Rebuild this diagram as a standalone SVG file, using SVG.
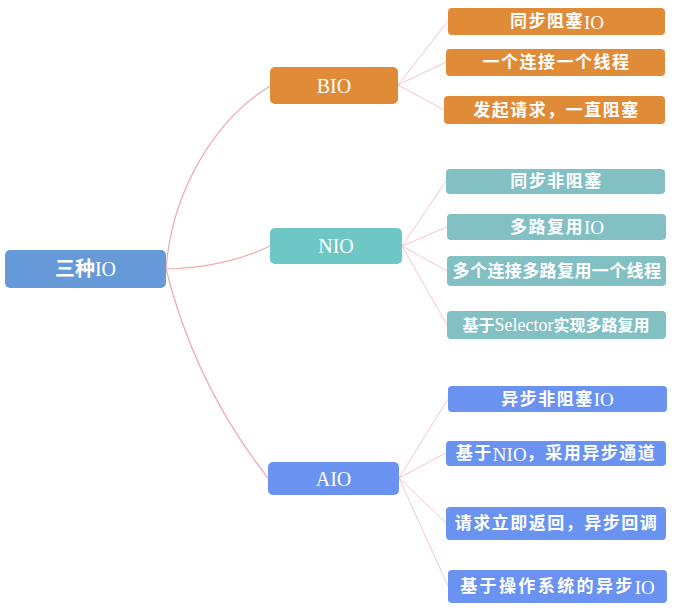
<svg xmlns="http://www.w3.org/2000/svg" width="687" height="611" viewBox="0 0 687 611">
<style>
text{font-family:"Liberation Serif","Noto Sans CJK SC",serif;font-weight:bold;fill:#fff;text-anchor:middle;dominant-baseline:central}
.t1{font-size:20px}
.t2{font-size:17px;letter-spacing:1.5px}
.n3{letter-spacing:0.4px}
.n4{letter-spacing:0;font-size:16px}
.a4{letter-spacing:2.4px}
.l{font-weight:normal}
.s{font-weight:normal;font-size:19px;letter-spacing:0}
.root{fill:#6699d8}
.bio{fill:#e08b37}
.nio{fill:#6fc6c6}
.nioc{fill:#82c0c4}
.aio{fill:#6a92f0}
.c{fill:none;stroke:#f0a8a8;stroke-width:1.2}
.cl{fill:none;stroke:#f4c4cc;stroke-width:1}
</style>
<rect width="687" height="611" fill="#fff"/>
<g id="connectors">
<path class="c" d="M166,269 C172,190 215,120 270,86"/>
<path class="c" d="M166,269 C210,268 245,258 270,246"/>
<path class="c" d="M166,269 Q195,385 268,478"/>
<path class="cl" d="M398,85 L448,21 M398,85 L446,62 M398,85 L444,110"/>
<path class="cl" d="M402,246 L446,181 M402,246 L447,227 M402,246 L447,271 M402,246 L447,325"/>
<path class="cl" d="M399,478 L448,399 M399,478 L446,453 M399,478 L446,523 M399,478 L448,586"/>
</g>
<g id="root"><rect class="root" x="5" y="250" width="161" height="38" rx="5"/><text class="t1" x="85.5" y="269">三种<tspan class="l">IO</tspan></text></g>
<g id="bio"><rect class="bio" x="270" y="67" width="128" height="37" rx="5"/><text class="t1 l" x="334" y="85.5">BIO</text></g>
<g id="bio1"><rect class="bio" x="448" y="8" width="217" height="27" rx="4"/><text class="t2" x="557" y="21.5">同步阻塞<tspan class="s">IO</tspan></text></g>
<g id="bio2"><rect class="bio" x="446" y="49" width="219" height="27" rx="4"/><text class="t2" x="556.5" y="62.5">一个连接一个线程</text></g>
<g id="bio3"><rect class="bio" x="444" y="96" width="221" height="28" rx="4"/><text class="t2" x="556.5" y="110">发起请求，一直阻塞</text></g>
<g id="nio"><rect class="nio" x="270" y="228" width="132" height="36" rx="5"/><text class="t1 l" x="336" y="246">NIO</text></g>
<g id="nio1"><rect class="nioc" x="446" y="169" width="219" height="25" rx="4"/><text class="t2" x="556.5" y="181.5">同步非阻塞</text></g>
<g id="nio2"><rect class="nioc" x="447" y="214" width="219" height="26" rx="4"/><text class="t2" x="557" y="227">多路复用<tspan class="s">IO</tspan></text></g>
<g id="nio3"><rect class="nioc" x="447" y="256" width="219" height="30" rx="4"/><text class="t2 n3" x="557" y="271">多个连接多路复用一个线程</text></g>
<g id="nio4"><rect class="nioc" x="447" y="311" width="219" height="28" rx="4"/><text class="t2 n4" x="556" y="325">基于<tspan class="s" style="font-size:18px">Selector</tspan>实现多路复用</text></g>
<g id="aio"><rect class="aio" x="268" y="462" width="131" height="33" rx="5"/><text class="t1 l" x="333.5" y="478.5">AIO</text></g>
<g id="aio1"><rect class="aio" x="448" y="386" width="219" height="26" rx="4"/><text class="t2" x="557.5" y="399">异步非阻塞<tspan class="s">IO</tspan></text></g>
<g id="aio2"><rect class="aio" x="446" y="441" width="220" height="25" rx="4"/><text class="t2" x="556" y="453.5">基于<tspan class="s">NIO</tspan>，采用异步通道</text></g>
<g id="aio3"><rect class="aio" x="446" y="507" width="220" height="33" rx="4"/><text class="t2" x="556.5" y="523.5">请求立即返回，异步回调</text></g>
<g id="aio4"><rect class="aio" x="448" y="570" width="219" height="33" rx="4"/><text class="t2 a4" x="557.5" y="586.5">基于操作系统的异步<tspan class="s">IO</tspan></text></g>
</svg>
